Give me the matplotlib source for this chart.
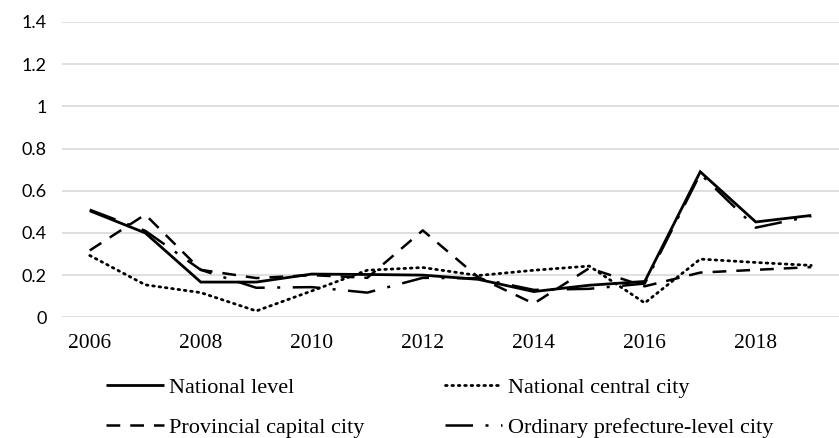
import matplotlib
matplotlib.use("Agg")
import matplotlib.pyplot as plt

years = [2006, 2007, 2008, 2009, 2010, 2011, 2012, 2013, 2014, 2015, 2016, 2017, 2018, 2019]
national = [0.505, 0.40, 0.167, 0.167, 0.205, 0.203, 0.20, 0.18, 0.122, 0.152, 0.17, 0.69, 0.452, 0.483]
central = [0.293, 0.154, 0.117, 0.030, 0.125, 0.223, 0.236, 0.198, 0.223, 0.243, 0.068, 0.276, 0.26, 0.246]
provincial = [0.317, 0.487, 0.225, 0.186, 0.20, 0.187, 0.412, 0.19, 0.065, 0.233, 0.147, 0.212, 0.225, 0.238]
ordinary = [0.51, 0.41, 0.225, 0.14, 0.143, 0.117, 0.187, 0.185, 0.13, 0.135, 0.16, 0.68, 0.425, 0.48]
labels = ["National level", "National central city", "Provincial capital city",
          "Ordinary prefecture-level city"]
yticks = [0, 0.2, 0.4, 0.6, 0.8, 1.0, 1.2, 1.4]
ytick_labels = ["0", "0.2", "0.4", "0.6", "0.8", "1", "1.2", "1.4"]
xtick_years = [2006, 2008, 2010, 2012, 2014, 2016, 2018]

W, H = 839, 438
fig = plt.figure(figsize=(W / 100, H / 100), dpi=100)
ax = fig.add_axes([62 / W, (H - 317.3) / H, (839 - 62) / W, (317.3 - 22) / H])

x = list(range(len(years)))
ax.plot(x, national, color="black", lw=2.0, solid_capstyle="butt", solid_joinstyle="miter", label=labels[0])
ax.plot(x, central, color="black", lw=2.0, linestyle=(0, (0.6, 1.7)), dash_capstyle="round", label=labels[1])
ax.plot(x, provincial, color="black", lw=1.8, linestyle=(0, (5.5, 4.0)), dash_capstyle="butt", label=labels[2])
ax.plot(x, ordinary, color="black", lw=1.8, linestyle=(0, (11, 5, 1.2, 5)), dash_capstyle="butt", label=labels[3])

ax.set_xlim(-0.5, len(years) - 0.5)
ax.set_ylim(0, 1.4)
ax.set_yticks(yticks)
ax.set_yticklabels(ytick_labels, fontfamily=["Lato", "DejaVu Sans"], fontsize=13)
ax.set_xticks([years.index(y) for y in xtick_years])
ax.set_xticklabels([str(y) for y in xtick_years], fontfamily="Liberation Serif", fontsize=15.5)
ax.tick_params(axis="both", length=0)
ax.tick_params(axis="y", pad=11)
ax.tick_params(axis="x", pad=12)
for s in ax.spines.values():
    s.set_visible(False)
ax.grid(axis="y", color="#d9d9d9", lw=1.2)
ax.set_axisbelow(True)

handles, labs = ax.get_legend_handles_labels()
order = [0, 2, 1, 3]
leg = fig.legend([handles[i] for i in order], [labs[i] for i in order],
                 ncol=2, loc="upper left", bbox_to_anchor=(106 / W, (H - 377) / H),
                 frameon=False, prop={"family": "Liberation Serif", "size": 16},
                 handlelength=2.6, handletextpad=0.25, columnspacing=3.6,
                 labelspacing=0.9, borderpad=0, borderaxespad=0)

fig.savefig("out.png", dpi=100)
